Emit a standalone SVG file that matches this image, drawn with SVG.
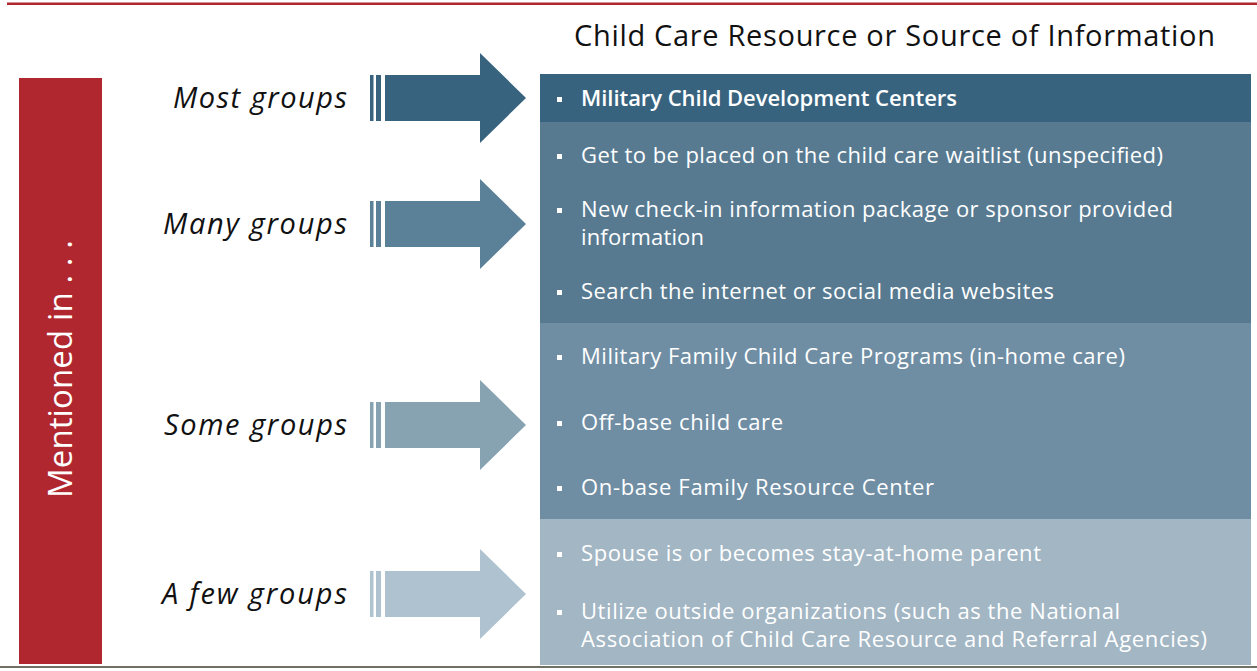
<svg xmlns="http://www.w3.org/2000/svg" width="1257" height="671" viewBox="0 0 1257 671">
  <style>
    .lbl { font-family: "Open Sans", "DejaVu Sans", sans-serif; font-style: italic; font-size: 29px; fill: #111; text-anchor: end; }
    .item { font-family: "Open Sans", "DejaVu Sans", sans-serif; font-size: 22px; fill: #ffffff; }
    .bold { font-weight: 600; }
    .head { font-family: "Open Sans", "DejaVu Sans", sans-serif; font-size: 29px; fill: #111; }
    .side { font-family: "Open Sans", "DejaVu Sans", sans-serif; font-size: 33px; fill: #ffffff; text-anchor: middle; }
    .bullet { fill: #ffffff; }
  </style>
  <defs>
    <!-- striped block arrow, tip at (0,0), pointing right -->
    <g id="arrow">
      <rect x="-156" y="-23" width="3.5" height="46"/>
      <rect x="-150" y="-23" width="5" height="46"/>
      <path d="M-141,-23 H-46 V-45 L0,0 L-46,45 V23 H-141 Z"/>
    </g>
    <rect id="sq" x="0" y="-6" width="5" height="5"/>
  </defs>

  <rect width="1257" height="671" fill="#ffffff"/>
  <!-- frame rules -->
  <rect x="7" y="2.5" width="1250" height="2.5" fill="#b0272f"/>
  <rect x="0" y="666" width="1257" height="2" fill="#707065"/>

  <g id="side-bar">
    <rect x="19" y="78" width="83" height="586" fill="#b0272f"/>
    <text class="side" transform="translate(72,369) rotate(-90)" textLength="258" lengthAdjust="spacing">Mentioned in . . .</text>
  </g>

  <g id="header">
    <text class="head" x="574" y="46" textLength="641" lengthAdjust="spacing">Child Care Resource or Source of Information</text>
  </g>

  <g id="connectors">
    <use href="#arrow" transform="translate(526,98)" fill="#38637f"/>
    <use href="#arrow" transform="translate(526,224)" fill="#5b8199"/>
    <use href="#arrow" transform="translate(526,425)" fill="#87a3b2"/>
    <use href="#arrow" transform="translate(526,594)" fill="#afc2cf"/>
  </g>

  <g id="most-groups">
    <text class="lbl" x="347" y="108" textLength="174" lengthAdjust="spacing">Most groups</text>
    <rect x="540" y="74" width="711" height="48" fill="#38637f"/>
    <use href="#sq" class="bullet" x="557" y="103"/>
    <text class="item bold" x="581" y="106" textLength="376" lengthAdjust="spacing">Military Child Development Centers</text>
  </g>

  <g id="many-groups">
    <text class="lbl" x="347" y="234" textLength="184" lengthAdjust="spacing">Many groups</text>
    <rect x="540" y="122" width="711" height="201" fill="#577a91"/>
    <use href="#sq" class="bullet" x="557" y="160"/>
    <text class="item" x="581" y="163" textLength="582" lengthAdjust="spacing">Get to be placed on the child care waitlist (unspecified)</text>
    <use href="#sq" class="bullet" x="557" y="214"/>
    <text class="item" x="581" y="217" textLength="592" lengthAdjust="spacing">New check-in information package or sponsor provided</text>
    <text class="item" x="581" y="245" textLength="123" lengthAdjust="spacing">information</text>
    <use href="#sq" class="bullet" x="557" y="296"/>
    <text class="item" x="581" y="299" textLength="473" lengthAdjust="spacing">Search the internet or social media websites</text>
  </g>

  <g id="some-groups">
    <text class="lbl" x="347" y="435" textLength="183" lengthAdjust="spacing">Some groups</text>
    <rect x="540" y="323" width="711" height="196" fill="#6f8ea4"/>
    <use href="#sq" class="bullet" x="557" y="361"/>
    <text class="item" x="581" y="364" textLength="544" lengthAdjust="spacing">Military Family Child Care Programs (in-home care)</text>
    <use href="#sq" class="bullet" x="557" y="427"/>
    <text class="item" x="581" y="430" textLength="202" lengthAdjust="spacing">Off-base child care</text>
    <use href="#sq" class="bullet" x="557" y="492"/>
    <text class="item" x="581" y="495" textLength="353" lengthAdjust="spacing">On-base Family Resource Center</text>
  </g>

  <g id="few-groups">
    <text class="lbl" x="347" y="604" textLength="185" lengthAdjust="spacing">A few groups</text>
    <rect x="540" y="519" width="711" height="146" fill="#a2b6c4"/>
    <use href="#sq" class="bullet" x="557" y="558"/>
    <text class="item" x="581" y="561" textLength="460" lengthAdjust="spacing">Spouse is or becomes stay-at-home parent</text>
    <use href="#sq" class="bullet" x="557" y="616"/>
    <text class="item" x="581" y="619" textLength="539" lengthAdjust="spacing">Utilize outside organizations (such as the National</text>
    <text class="item" x="581" y="647" textLength="626" lengthAdjust="spacing">Association of Child Care Resource and Referral Agencies)</text>
  </g>
</svg>
